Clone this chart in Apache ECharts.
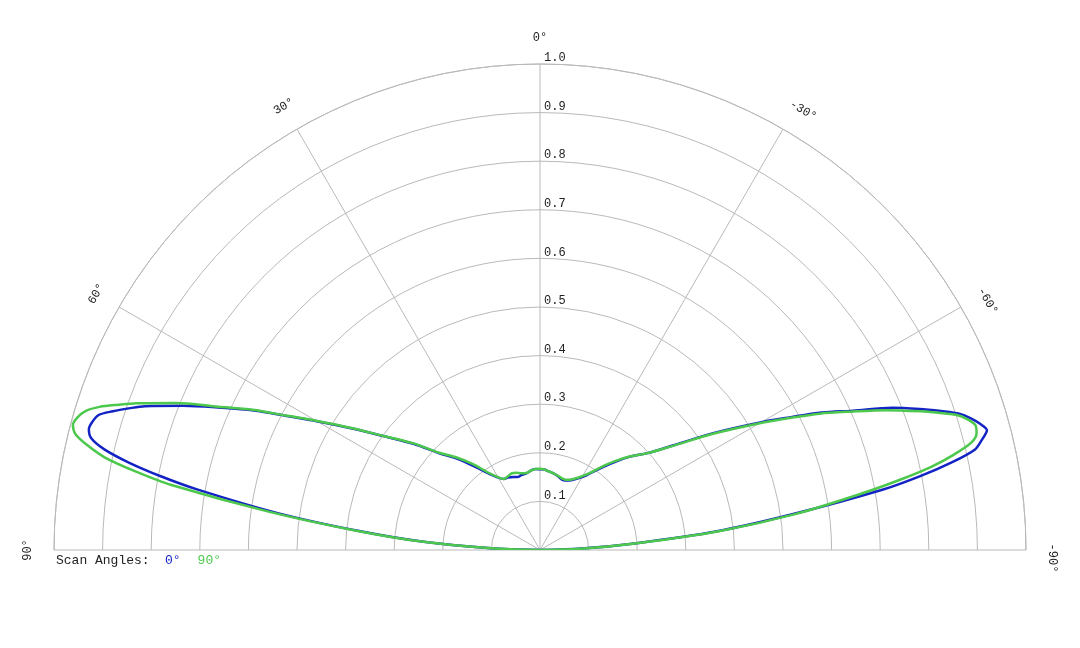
<!DOCTYPE html>
<html>
<head>
<meta charset="utf-8">
<script src="https://cdn.jsdelivr.net/npm/echarts@6/dist/echarts.min.js"></script>
<style>
  html, body { margin: 0; background: #fff; }
  #plot { width: 1080px; height: 648px; }
</style>
</head>
<body>
<div id="plot"></div>
<script>
// angle in degrees, 0 = straight up, positive to the left
const angles = [
  90, 88, 86, 84, 82, 80, 79, 78, 77, 76,
  75, 74, 73, 72, 71, 70, 68, 66, 64, 62,
  60, 57, 54, 50, 46, 42, 38, 34, 30, 27,
  24, 20, 17, 14, 10, 6, 3, 0, -3, -6,
  -10, -14, -17, -20, -24, -28, -32, -36, -40, -44,
  -48, -52, -56, -60, -62, -64, -66, -68, -70, -71,
  -72, -73, -74, -75, -76, -77, -78, -79, -80, -82,
  -84, -86, -88, -90
];

// scan angle 0°
const scan0 = [
  0, 0.10, 0.24, 0.377, 0.545, 0.715, 0.795, 0.865, 0.92, 0.952,
  0.961, 0.958, 0.95, 0.924, 0.895, 0.865, 0.792, 0.72, 0.655, 0.586,
  0.530, 0.458, 0.399, 0.340, 0.286, 0.252, 0.218, 0.190, 0.172, 0.164,
  0.163, 0.160, 0.157, 0.159, 0.160, 0.165, 0.167, 0.166, 0.166, 0.163,
  0.160, 0.156, 0.152, 0.152, 0.157, 0.167, 0.182, 0.206, 0.235, 0.267,
  0.298, 0.351, 0.430, 0.526, 0.581, 0.645, 0.705, 0.782, 0.845, 0.877,
  0.907, 0.927, 0.942, 0.952, 0.937, 0.918, 0.865, 0.797, 0.717, 0.52,
  0.364, 0.195, 0.085, 0
];

// scan angle 90°
const scan90 = [
  0, 0.10, 0.24, 0.38, 0.56, 0.77, 0.848, 0.915, 0.955, 0.985,
  0.995, 0.99, 0.978, 0.953, 0.918, 0.883, 0.808, 0.725, 0.658, 0.588,
  0.532, 0.460, 0.400, 0.342, 0.288, 0.256, 0.224, 0.193, 0.173, 0.164,
  0.165, 0.168, 0.166, 0.163, 0.161, 0.165, 0.167, 0.167, 0.166, 0.163,
  0.160, 0.157, 0.154, 0.154, 0.159, 0.169, 0.184, 0.209, 0.238, 0.268,
  0.298, 0.349, 0.427, 0.522, 0.577, 0.640, 0.700, 0.768, 0.834, 0.867,
  0.900, 0.92, 0.932, 0.93, 0.915, 0.875, 0.823, 0.752, 0.675, 0.53,
  0.37, 0.20, 0.09, 0
];

const angleTicks = [90, 60, 30, 0, -30, -60, -90];

const FONT = "'Courier New', 'Liberation Mono', monospace";
const GRID = '#b9b9b9';
const BLUE = '#1424c4';
const GREEN = '#4cc84c';

const chart = echarts.init(document.getElementById('plot'));
const toPairs = rs => rs.map((r, i) => [r, angles[i]]);

chart.setOption({
  animation: false,
  title: {
    text: 'Scan Angles:', left: 56, top: 554, padding: 0,
    textStyle: { fontFamily: FONT, fontSize: 13, fontWeight: 'normal', color: '#222' }
  },
  legend: {
    left: 160, top: 554, padding: 0, itemWidth: 0, itemHeight: 0, itemGap: 12,
    icon: 'rect', selectedMode: false,
    textStyle: { fontFamily: FONT, fontSize: 13 },
    data: [
      { name: '0°', textStyle: { color: BLUE } },
      { name: '90°', textStyle: { color: GREEN } }
    ]
  },
  polar: [
    { center: [540, 550], radius: 486 },
    { center: [540, 550], radius: 486 }
  ],
  angleAxis: [
    {
      polarIndex: 0, type: 'value', min: -90, max: 90, interval: 30,
      startAngle: 0, endAngle: 180, clockwise: false,
      axisLine: { lineStyle: { color: GRID, width: 1 } },
      axisTick: { show: false },
      axisLabel: { show: false },
      splitLine: { lineStyle: { color: GRID, width: 1 } }
    },
    {
      polarIndex: 1, type: 'value', min: 0, max: 360, startAngle: 90,
      axisLine: { show: false }, axisTick: { show: false },
      axisLabel: { show: false }, splitLine: { show: false }
    }
  ],
  radiusAxis: [
    {
      polarIndex: 0, type: 'value', min: 0, max: 1, interval: 0.1,
      axisLine: { show: false }, axisTick: { show: false },
      axisLabel: { show: false },
      splitLine: { lineStyle: { color: GRID, width: 1 } }
    },
    {
      polarIndex: 1, type: 'value', min: 0, max: 1, interval: 0.1,
      axisLine: { show: false }, axisTick: { show: false }, splitLine: { show: false },
      axisLabel: {
        margin: -4, align: 'left', verticalAlign: 'bottom',
        fontFamily: FONT, fontSize: 12, color: '#222',
        formatter: v => (v === 0 ? '' : v.toFixed(1))
      }
    }
  ],
  series: [
    {
      name: '0°', type: 'line', coordinateSystem: 'polar', polarIndex: 0,
      data: toPairs(scan0), showSymbol: false, smooth: 0.3,
      lineStyle: { color: BLUE, width: 2.5 }, itemStyle: { color: BLUE }
    },
    {
      name: '90°', type: 'line', coordinateSystem: 'polar', polarIndex: 0,
      data: toPairs(scan90), showSymbol: false, smooth: 0.3,
      lineStyle: { color: GREEN, width: 2.5 }, itemStyle: { color: GREEN }
    }
  ]
});

// angle labels, turned along the rim; negative ones are pushed along
// the reading direction so the digits sit over the spoke
const labels = angleTicks.map(a => {
  const rot = a * Math.PI / 180;
  let p = chart.convertToPixel({ seriesIndex: 0 }, [1.054, a]);
  if (!p) {
    p = [540 - 512 * Math.sin(rot), 550 - 512 * Math.cos(rot)];
  }
  const shift = a < 0 ? 8 : 0;
  return {
    type: 'text',
    x: p[0] + shift * Math.cos(rot),
    y: p[1] - shift * Math.sin(rot),
    rotation: rot,
    style: {
      text: a + '°', align: 'center', verticalAlign: 'middle',
      fontFamily: FONT, fontSize: 12, fill: '#222'
    }
  };
});
chart.setOption({ graphic: labels });
</script>
</body>
</html>
